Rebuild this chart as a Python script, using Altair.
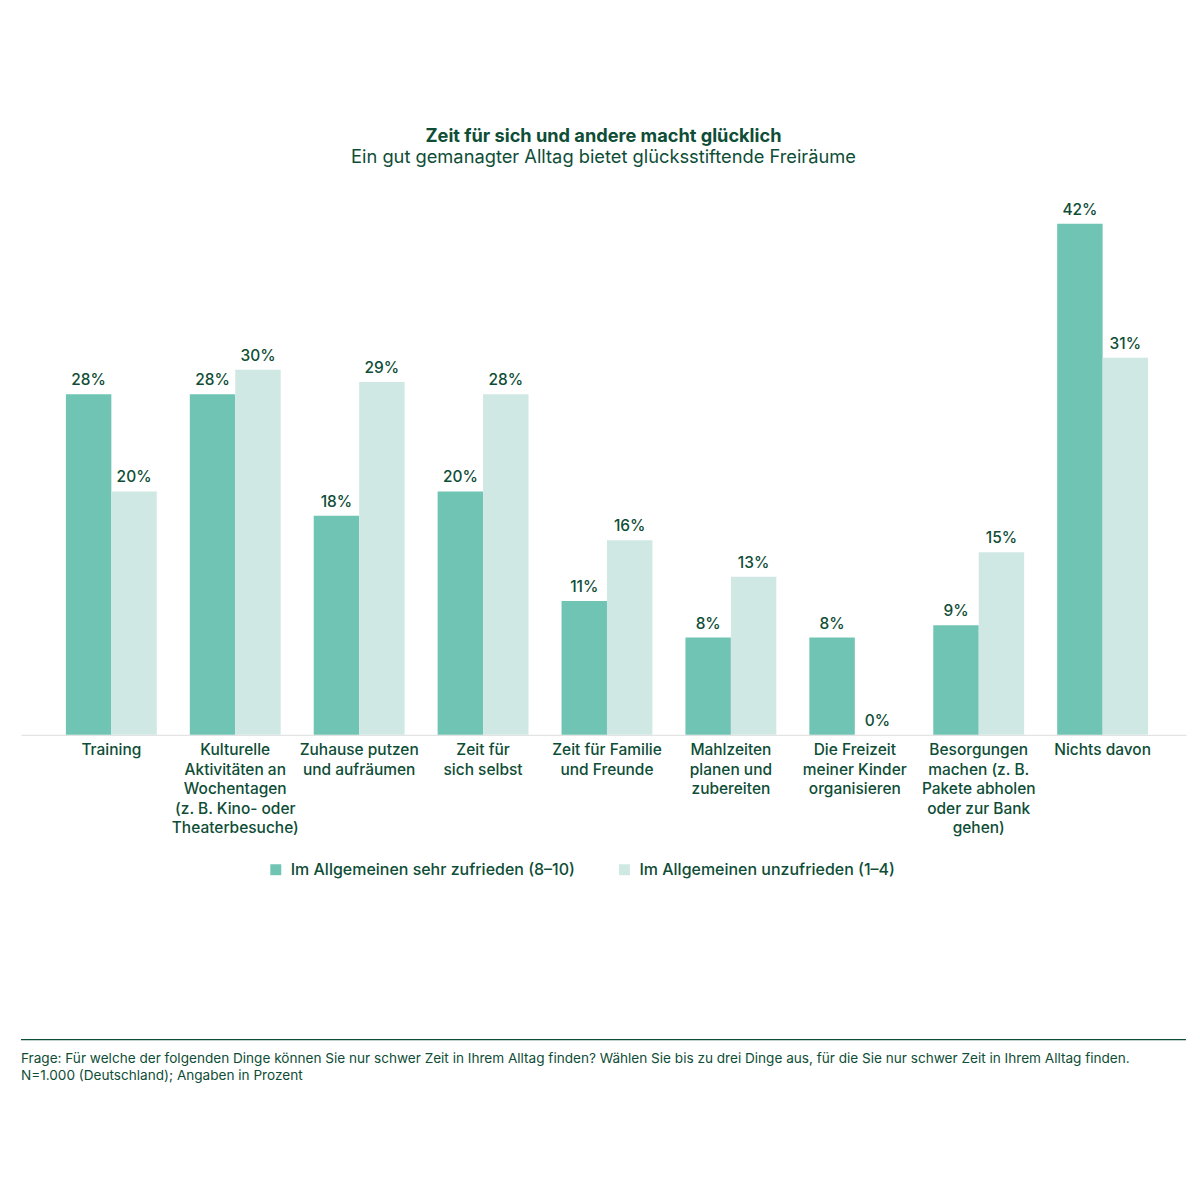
import altair as alt
import pandas as pd

categories = [
    "Training",
    "Kulturelle|Aktivitäten an|Wochentagen|(z. B. Kino- oder|Theaterbesuche)",
    "Zuhause putzen|und aufräumen",
    "Zeit für|sich selbst",
    "Zeit für Familie|und Freunde",
    "Mahlzeiten|planen und|zubereiten",
    "Die Freizeit|meiner Kinder|organisieren",
    "Besorgungen|machen (z. B.|Pakete abholen|oder zur Bank|gehen)",
    "Nichts davon",
]
series = ["Im Allgemeinen sehr zufrieden (8–10)", "Im Allgemeinen unzufrieden (1–4)"]
zufrieden = [28, 28, 18, 20, 11, 8, 8, 9, 42]
unzufrieden = [20, 30, 29, 28, 16, 13, 0, 15, 31]
colors = ["#70c4b4", "#d0e8e4"]
footnote_lines = [
    "Frage: Für welche der folgenden Dinge können Sie nur schwer Zeit in Ihrem Alltag finden? Wählen Sie bis zu drei Dinge aus, für die Sie nur schwer Zeit in Ihrem Alltag finden.",
    "N=1.000 (Deutschland); Angaben in Prozent",
]

rows = []
for c, a, b in zip(categories, zufrieden, unzufrieden):
    rows.append({"cat": c, "grp": series[0], "val": a})
    rows.append({"cat": c, "grp": series[1], "val": b})
df = pd.DataFrame(rows)

DARK = "#0e4d36"
FONT = "Inter"
W, H = 1166, 548

base = alt.Chart(df).encode(
    x=alt.X("cat:N", sort=categories,
            scale=alt.Scale(paddingInner=0.2667, paddingOuter=0.3344, align=0.542),
            axis=alt.Axis(title=None, labelAngle=0, ticks=False, domainColor="#dddddd",
                          labelColor=DARK, labelFontSize=15.5, labelFont=FONT,
                          labelFontWeight=500,
                          labelLineHeight=19.5, labelPadding=8, labelLimit=0,
                          labelExpr="split(datum.label, '|')", labelBaseline="top")),
    xOffset=alt.XOffset("grp:N", sort=series, scale=alt.Scale(paddingInner=0, paddingOuter=0)),
)

bars = base.mark_bar().encode(
    y=alt.Y("val:Q", scale=alt.Scale(domain=[0, 45]), axis=None),
    color=alt.Color("grp:N", sort=series,
                    scale=alt.Scale(domain=series, range=colors),
                    legend=alt.Legend(title=None, orient="none", direction="horizontal",
                                      legendX=247, legendY=675, symbolType="square",
                                      symbolSize=120, symbolStrokeWidth=0,
                                      labelFontSize=16, labelFont=FONT, labelColor=DARK,
                                      labelFontWeight=500, labelLimit=0,
                                      columnPadding=41, labelOffset=7)),
)

labels = base.mark_text(dy=-6, baseline="bottom", fontSize=15.5, font=FONT, fontWeight=500,
                        color=DARK).encode(
    y=alt.Y("val:Q", scale=alt.Scale(domain=[0, 45])),
).transform_calculate(txt="datum.val + '%'").encode(text="txt:N")

one = pd.DataFrame({"k": [0]})
rule = alt.Chart(one).mark_rule(color=DARK, strokeWidth=1.2).encode(
    x=alt.value(0), x2=alt.value(W), y=alt.value(853)
)
foot1 = alt.Chart(one).mark_text(align="left", baseline="middle", fontSize=13.6, font=FONT, color=DARK).encode(
    x=alt.value(0), y=alt.value(872), text=alt.value(footnote_lines[0])
)
foot2 = alt.Chart(one).mark_text(align="left", baseline="middle", fontSize=13.6, font=FONT, color=DARK).encode(
    x=alt.value(0), y=alt.value(889), text=alt.value(footnote_lines[1])
)

chart = alt.layer(bars, labels, rule, foot1, foot2).properties(
    width=W, height=H,
    padding={"left": 12, "top": 118, "right": 5, "bottom": 5},
    title=alt.TitleParams(
        text="Zeit für sich und andere macht glücklich",
        subtitle="Ein gut gemanagter Alltag bietet glücksstiftende Freiräume",
        anchor="middle", fontSize=18.2, subtitleFontSize=18.3, font=FONT, subtitleFont=FONT,
        fontWeight="bold", color=DARK, subtitleColor=DARK, subtitlePadding=3, offset=20,
    ),
).configure(background="white").configure_view(strokeWidth=0)

chart.save("out.html", embed_options={"renderer": "svg", "actions": False})
